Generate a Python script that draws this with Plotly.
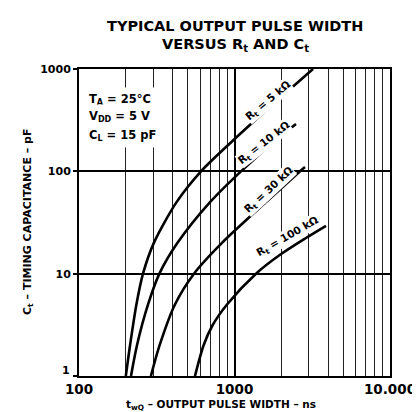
import plotly.graph_objects as go

# Data (pulse width in ns vs timing capacitance in pF)
c_5k = [1, 2, 5, 10, 20, 50, 100, 200, 500, 1000]
t_5k = [200, 213, 234, 258, 303, 424, 609, 978, 1904, 3198]

c_10k = [1, 2, 5, 10, 20, 50, 100, 200, 290]
t_10k = [216, 236, 278, 329, 430, 696, 1101, 1835, 2486]

c_30k = [1, 2, 5, 10, 20, 50, 100, 110]
t_30k = [290, 330, 414, 549, 831, 1594, 2638, 2840]

c_100k = [1, 2, 3.15, 5, 10, 15.2, 22.3, 29.3]
t_100k = [557, 633, 724, 895, 1375, 1953, 2883, 3877]

x_ticks = [100, 1000, 10000]
x_ticktext = ["100", "1000", "10.000"]
y_ticks = [1, 10, 100, 1000]
y_ticktext = ["", "10", "100", "1000"]   # the "1" label is placed by hand below
x_minor = [200, 300, 400, 500, 600, 700, 800, 900,
           2000, 3000, 4000, 5000, 6000, 7000, 8000, 9000]

FONT = "DejaVu Sans"

fig = go.Figure()
for c, t in [(c_5k, t_5k), (c_10k, t_10k), (c_30k, t_30k), (c_100k, t_100k)]:
    fig.add_trace(go.Scatter(x=t, y=c, mode="lines",
                             line=dict(color="black", width=2.6, shape="spline", smoothing=0.8),
                             showlegend=False, hoverinfo="skip"))

W, H = 420, 412
L, R, T, B = 71, 382, 61, 368

def px(xp):
    return (xp - L) / (R - L)

def py(yp):
    return (B - yp) / (B - T)

fig.update_layout(
    width=W, height=H,
    margin=dict(l=L, r=W - R, t=T, b=H - B),
    paper_bgcolor="white", plot_bgcolor="white",
    font=dict(family=FONT, color="black"),
    xaxis=dict(type="log", range=[2, 4], tickvals=x_ticks, ticktext=x_ticktext,
               showgrid=True, gridcolor="black", gridwidth=1.5,
               showline=True, linecolor="black", linewidth=2, mirror=True,
               ticks="", tickfont=dict(family=FONT, size=13.5, weight="bold", color="black"),
               minor=dict(tickvals=x_minor, showgrid=True, gridcolor="#222", gridwidth=1.1, ticks=""),
               zeroline=False),
    yaxis=dict(type="log", range=[0, 3], tickvals=y_ticks, ticktext=y_ticktext,
               showgrid=True, gridcolor="black", gridwidth=1.6,
               showline=True, linecolor="black", linewidth=2, mirror=True,
               ticks="outside", ticklen=4, tickcolor="black", tickwidth=1.5,
               tickfont=dict(family=FONT, size=11, weight="bold", color="black"),
               zeroline=False),
)

ann = []

def add(text, x, y, size, angle=0, bg=None, xanchor="center", pad=1):
    d = dict(text=text, x=px(x), y=py(y), xref="paper", yref="paper", showarrow=False,
             xanchor=xanchor, yanchor="middle", textangle=angle,
             font=dict(family=FONT, size=size, weight="bold", color="black"), borderpad=pad)
    if bg:
        d["bgcolor"] = bg
    ann.append(d)

# title (two lines)
add("TYPICAL OUTPUT PULSE WIDTH", 227, 18, 14.5)
add("VERSUS R<sub>t</sub> AND C<sub>t</sub>", 227, 37, 14.5)
# axis titles
add("t<sub>wQ</sub> – OUTPUT PULSE WIDTH – ns", 213, 397, 10.5)
add("C<sub>t</sub> – TIMING CAPACITANCE – pF", 20, 214, 11, angle=-90)
# y tick "1" sits a little above the bottom frame line
add("1", 64, 362, 11, xanchor="right")
# test conditions
for txt, yy in [("T<sub>A</sub> = 25°C", 91), ("V<sub>DD</sub> = 5 V", 109), ("C<sub>L</sub> = 15 pF", 127)]:
    add(txt, 76, yy, 11.5, bg="white", xanchor="left", pad=4)
# curve labels
for txt, xx, yy, ang in [("R<sub>t</sub> = 5 kΩ", 260, 93, -40),
                         ("R<sub>t</sub> = 10 kΩ", 256, 135, -38),
                         ("R<sub>t</sub> = 30 kΩ", 261, 182, -43),
                         ("R<sub>t</sub> = 100 kΩ", 279, 229, -30)]:
    add(txt, xx, yy, 10.5, angle=ang, bg="white", pad=0)
fig.update_layout(annotations=ann)

fig.write_html("out.html")
